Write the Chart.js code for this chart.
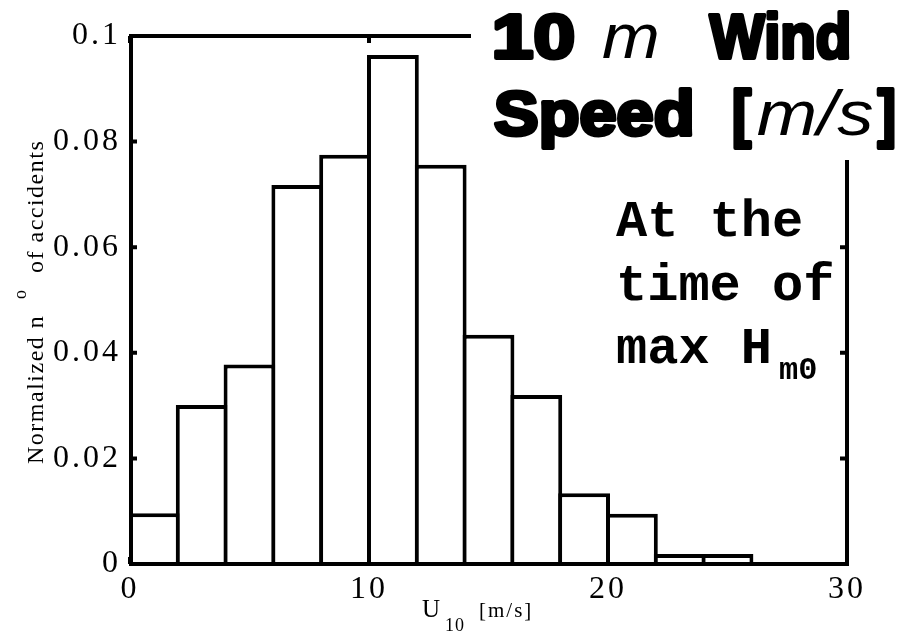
<!DOCTYPE html>
<html>
<head>
<meta charset="utf-8">
<title>10 m Wind Speed</title>
<script src="https://cdn.jsdelivr.net/npm/chart.js@4.4.1/dist/chart.umd.min.js"></script>
<style>
  html, body { margin: 0; padding: 0; background: #fff; }
  #windChart { display: block; }
</style>
</head>
<body>
<canvas id="windChart" width="919" height="634"></canvas>
<script>
// histogram of wind speed at the time of max Hm0, bins of 2 m/s
const binStarts = [0, 2, 4, 6, 8, 10, 12, 14, 16, 18, 20, 22, 24];
const binWidth = 2;
const normalizedCounts = [0.0096, 0.0301, 0.0378, 0.0718, 0.0775, 0.0964, 0.0756,
                          0.0434, 0.0320, 0.0134, 0.0095, 0.0019, 0.0019];
const xTickValues = [0, 10, 20, 30];
const yTickValues = [0, 0.02, 0.04, 0.06, 0.08, 0.1];

const serif = '"Liberation Serif", "Times New Roman", serif';
const edge = 4; // outline width of the bars and the axes box

// matlab style box around the axes, with ticks pointing inward
const framePlugin = {
    id: 'frame',
    beforeDraw(chart) {
        chart.ctx.letterSpacing = '3px'; // wide tick labels
    },
    beforeDatasetsDraw(chart) {
        chart.ctx.letterSpacing = '0px';
    },
    afterDatasetsDraw(chart) {
        const ctx = chart.ctx;
        const { left, right, top, bottom } = chart.chartArea;
        const xs = chart.scales.x;
        const ys = chart.scales.y;
        const tick = 7;
        ctx.save();
        ctx.strokeStyle = '#000';
        ctx.lineWidth = edge;
        ctx.lineCap = 'square';
        ctx.beginPath();
        ctx.moveTo(left + 1, top);
        ctx.lineTo(right, top);
        ctx.lineTo(right, bottom);
        ctx.lineTo(left + 1, bottom);
        ctx.closePath();
        ctx.stroke();
        ctx.lineCap = 'butt';
        ctx.beginPath();
        yTickValues.forEach(v => {
            const y = ys.getPixelForValue(v);
            ctx.moveTo(left, y); ctx.lineTo(left + tick, y);
            ctx.moveTo(right, y); ctx.lineTo(right - tick, y);
        });
        xTickValues.forEach(v => {
            const x = xs.getPixelForValue(v);
            ctx.moveTo(x, top); ctx.lineTo(x, top + tick);
            ctx.moveTo(x, bottom); ctx.lineTo(x, bottom - tick);
        });
        ctx.stroke();
        ctx.restore();
    },
    afterDraw(chart) {
        const ctx = chart.ctx;
        ctx.save();
        ctx.fillStyle = '#000';
        ctx.textAlign = 'left';
        ctx.textBaseline = 'alphabetic';

        // y axis title, rotated
        ctx.save();
        ctx.translate(43, 464);
        ctx.rotate(-Math.PI / 2);
        ctx.font = '24px ' + serif;
        ctx.letterSpacing = '1.5px';
        ctx.fillText('Normalized n', 0, 0);
        ctx.font = '18px ' + serif;
        ctx.fillText('o', 165, -17);
        ctx.font = '24px ' + serif;
        ctx.fillText('of accidents', 191, 0);
        ctx.restore();

        // x axis title
        ctx.font = '25px ' + serif;
        ctx.fillText('U', 422, 617);
        ctx.font = '18px ' + serif;
        ctx.letterSpacing = '1px';
        ctx.fillText('10', 445, 631);
        ctx.font = '21px ' + serif;
        ctx.letterSpacing = '2px';
        ctx.fillText('[m/s]', 479, 617);
        ctx.letterSpacing = '0px';

        // note inside the axes
        const mono = '"Liberation Mono", "Courier New", monospace';
        ctx.font = 'bold 52px ' + mono;
        ctx.fillText('At the', 616, 236);
        ctx.fillText('time of', 616, 300);
        ctx.fillText('max H', 616, 363);
        ctx.font = 'bold 32px ' + mono;
        ctx.fillText('m0', 779, 379);

        // heading on a white patch over the top right corner
        ctx.fillStyle = '#fff';
        ctx.fillRect(471, 0, 448, 160);
        ctx.fillStyle = '#000';
        ctx.strokeStyle = '#000';
        ctx.lineJoin = 'round';
        const heavy = 'bold 63px "Liberation Sans", Arial, sans-serif';
        const slant = 'italic 63px "Liberation Sans", Arial, sans-serif';
        // each word is stretched between its left and right ink edges
        const word = (text, x0, x1, y, font, bold) => {
            ctx.font = font;
            const lw = bold ? 4 : 0;
            const m = ctx.measureText(text);
            const ink = m.actualBoundingBoxLeft + m.actualBoundingBoxRight + lw;
            const sx = (x1 - x0) / ink;
            ctx.save();
            ctx.translate(x0 + (m.actualBoundingBoxLeft + lw / 2) * sx, y);
            ctx.scale(sx, 1);
            ctx.fillText(text, 0, 0);
            if (bold) {
                ctx.lineWidth = lw;
                ctx.strokeText(text, 0, 0);
            }
            ctx.restore();
        };
        word('10', 493, 575, 58, heavy, true);
        word('m', 603, 657, 58, slant, false);
        word('Wind', 708, 850, 58, heavy, true);
        word('Speed', 493, 693, 135, heavy, true);
        word('[', 733, 753, 135, heavy, true);
        word('m/s', 758, 873, 135, slant, false);
        word(']', 876, 895, 135, heavy, true);
        ctx.restore();
    }
};

const ctx = document.getElementById('windChart').getContext('2d');
const windChart = new Chart(ctx, {
    type: 'bar',
    data: {
        datasets: [{
            label: 'U10',
            data: binStarts.map((s, i) => ({ x: s + binWidth / 2, y: normalizedCounts[i] })),
            backgroundColor: '#fff',
            borderColor: '#000',
            borderWidth: edge,
            borderSkipped: 'start',
            inflateAmount: 0,
            // neighbours overlap by one outline so shared edges stay one line wide
            barPercentage: 1.084,
            categoryPercentage: 1
        }]
    },
    options: {
        responsive: false,
        animation: false,
        devicePixelRatio: 1,
        layout: { padding: { top: 36, right: 72, left: 0, bottom: 0 } },
        plugins: {
            legend: { display: false },
            tooltip: { enabled: false }
        },
        scales: {
            x: {
                type: 'linear',
                min: 0,
                max: 30,
                offset: false,
                grid: { display: false, drawTicks: false },
                border: { display: false },
                afterFit: s => { s.height = 70; },
                afterBuildTicks: s => { s.ticks = xTickValues.map(v => ({ value: v })); },
                ticks: {
                    color: '#000',
                    font: { family: serif, size: 32 },
                    padding: 6,
                    maxRotation: 0,
                    autoSkip: false,
                    callback: v => String(v)
                }
            },
            y: {
                min: 0,
                max: 0.1,
                grid: { display: false, drawTicks: false },
                border: { display: false },
                afterFit: s => { s.width = 130; },
                afterBuildTicks: s => { s.ticks = yTickValues.map(v => ({ value: v })); },
                ticks: {
                    color: '#000',
                    font: { family: serif, size: 32 },
                    padding: 9,
                    autoSkip: false,
                    callback: v => String(v)
                }
            }
        }
    },
    plugins: [framePlugin]
});
</script>
</body>
</html>
